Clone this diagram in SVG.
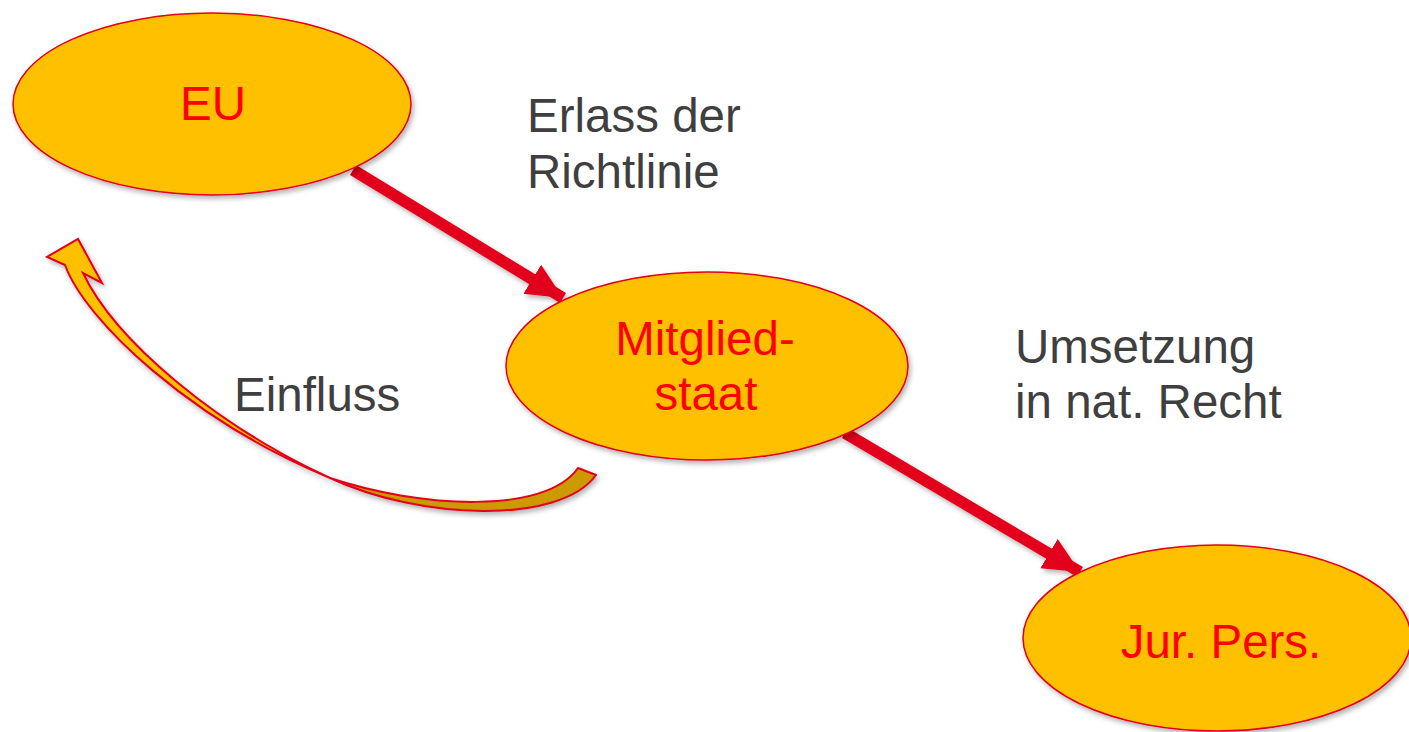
<svg xmlns="http://www.w3.org/2000/svg" width="1409" height="732" viewBox="0 0 1409 732">
  <defs>
    <filter id="sh" x="-10%" y="-10%" width="130%" height="130%">
      <feDropShadow dx="2" dy="3" stdDeviation="2.5" flood-color="#000" flood-opacity="0.3"/>
    </filter>
    <marker id="ah" markerUnits="userSpaceOnUse" markerWidth="40" markerHeight="36" refX="36" refY="17" orient="auto">
      <path d="M0,0 L36,17 L0,34 Z" fill="#E2001A"/>
    </marker>
    <style>
      .node { fill: #FFC000; stroke: #E2001A; stroke-width: 1.5; }
      .ntext { font-family: "Liberation Sans", Arial, sans-serif; font-size: 47.5px; fill: #FF0000; text-anchor: middle; }
      .label { font-family: "Liberation Sans", Arial, sans-serif; font-size: 47.5px; fill: #3F3F3F; }
      .conn { stroke: #E2001A; stroke-width: 11.5; fill: none; }
    </style>
  </defs>

  <g id="connectors" filter="url(#sh)">
    <line class="conn" x1="353" y1="170" x2="563" y2="298" marker-end="url(#ah)"/>
    <line class="conn" x1="845" y1="433" x2="1080" y2="572" marker-end="url(#ah)"/>
    <g id="einfluss-arrow">
      <path d="M330,478 C420,508 545,515 578,468 L596,475 C560,525 420,520 330,478 Z" fill="#CC9900" stroke="#E2001A" stroke-width="2" stroke-linejoin="round"/>
      <path d="M65,265 L47,257 L78,239 L102,283 L83,273 C115,340 215,425 330,478 C190,420 85,320 65,265 Z" fill="#FFC000" stroke="#E2001A" stroke-width="2" stroke-linejoin="miter"/>
    </g>
  </g>

  <g id="node-eu" filter="url(#sh)">
    <ellipse class="node" cx="212" cy="104" rx="199" ry="91"/>
  </g>
  <text class="ntext" x="213" y="120">EU</text>

  <g id="node-mitgliedstaat" filter="url(#sh)">
    <ellipse class="node" cx="707" cy="366" rx="201" ry="94"/>
  </g>
  <text class="ntext" x="705" y="355">Mitglied-</text>
  <text class="ntext" x="706" y="410">staat</text>

  <g id="node-jurpers" filter="url(#sh)">
    <ellipse class="node" cx="1217" cy="638" rx="194" ry="93"/>
  </g>
  <text class="ntext" x="1221" y="658">Jur. Pers.</text>

  <g id="labels">
    <text class="label" x="527" y="132">Erlass der</text>
    <text class="label" x="527" y="188">Richtlinie</text>
    <text class="label" x="1015" y="363">Umsetzung</text>
    <text class="label" x="1015" y="418">in nat. Recht</text>
    <text class="label" x="234" y="411">Einfluss</text>
  </g>
</svg>
